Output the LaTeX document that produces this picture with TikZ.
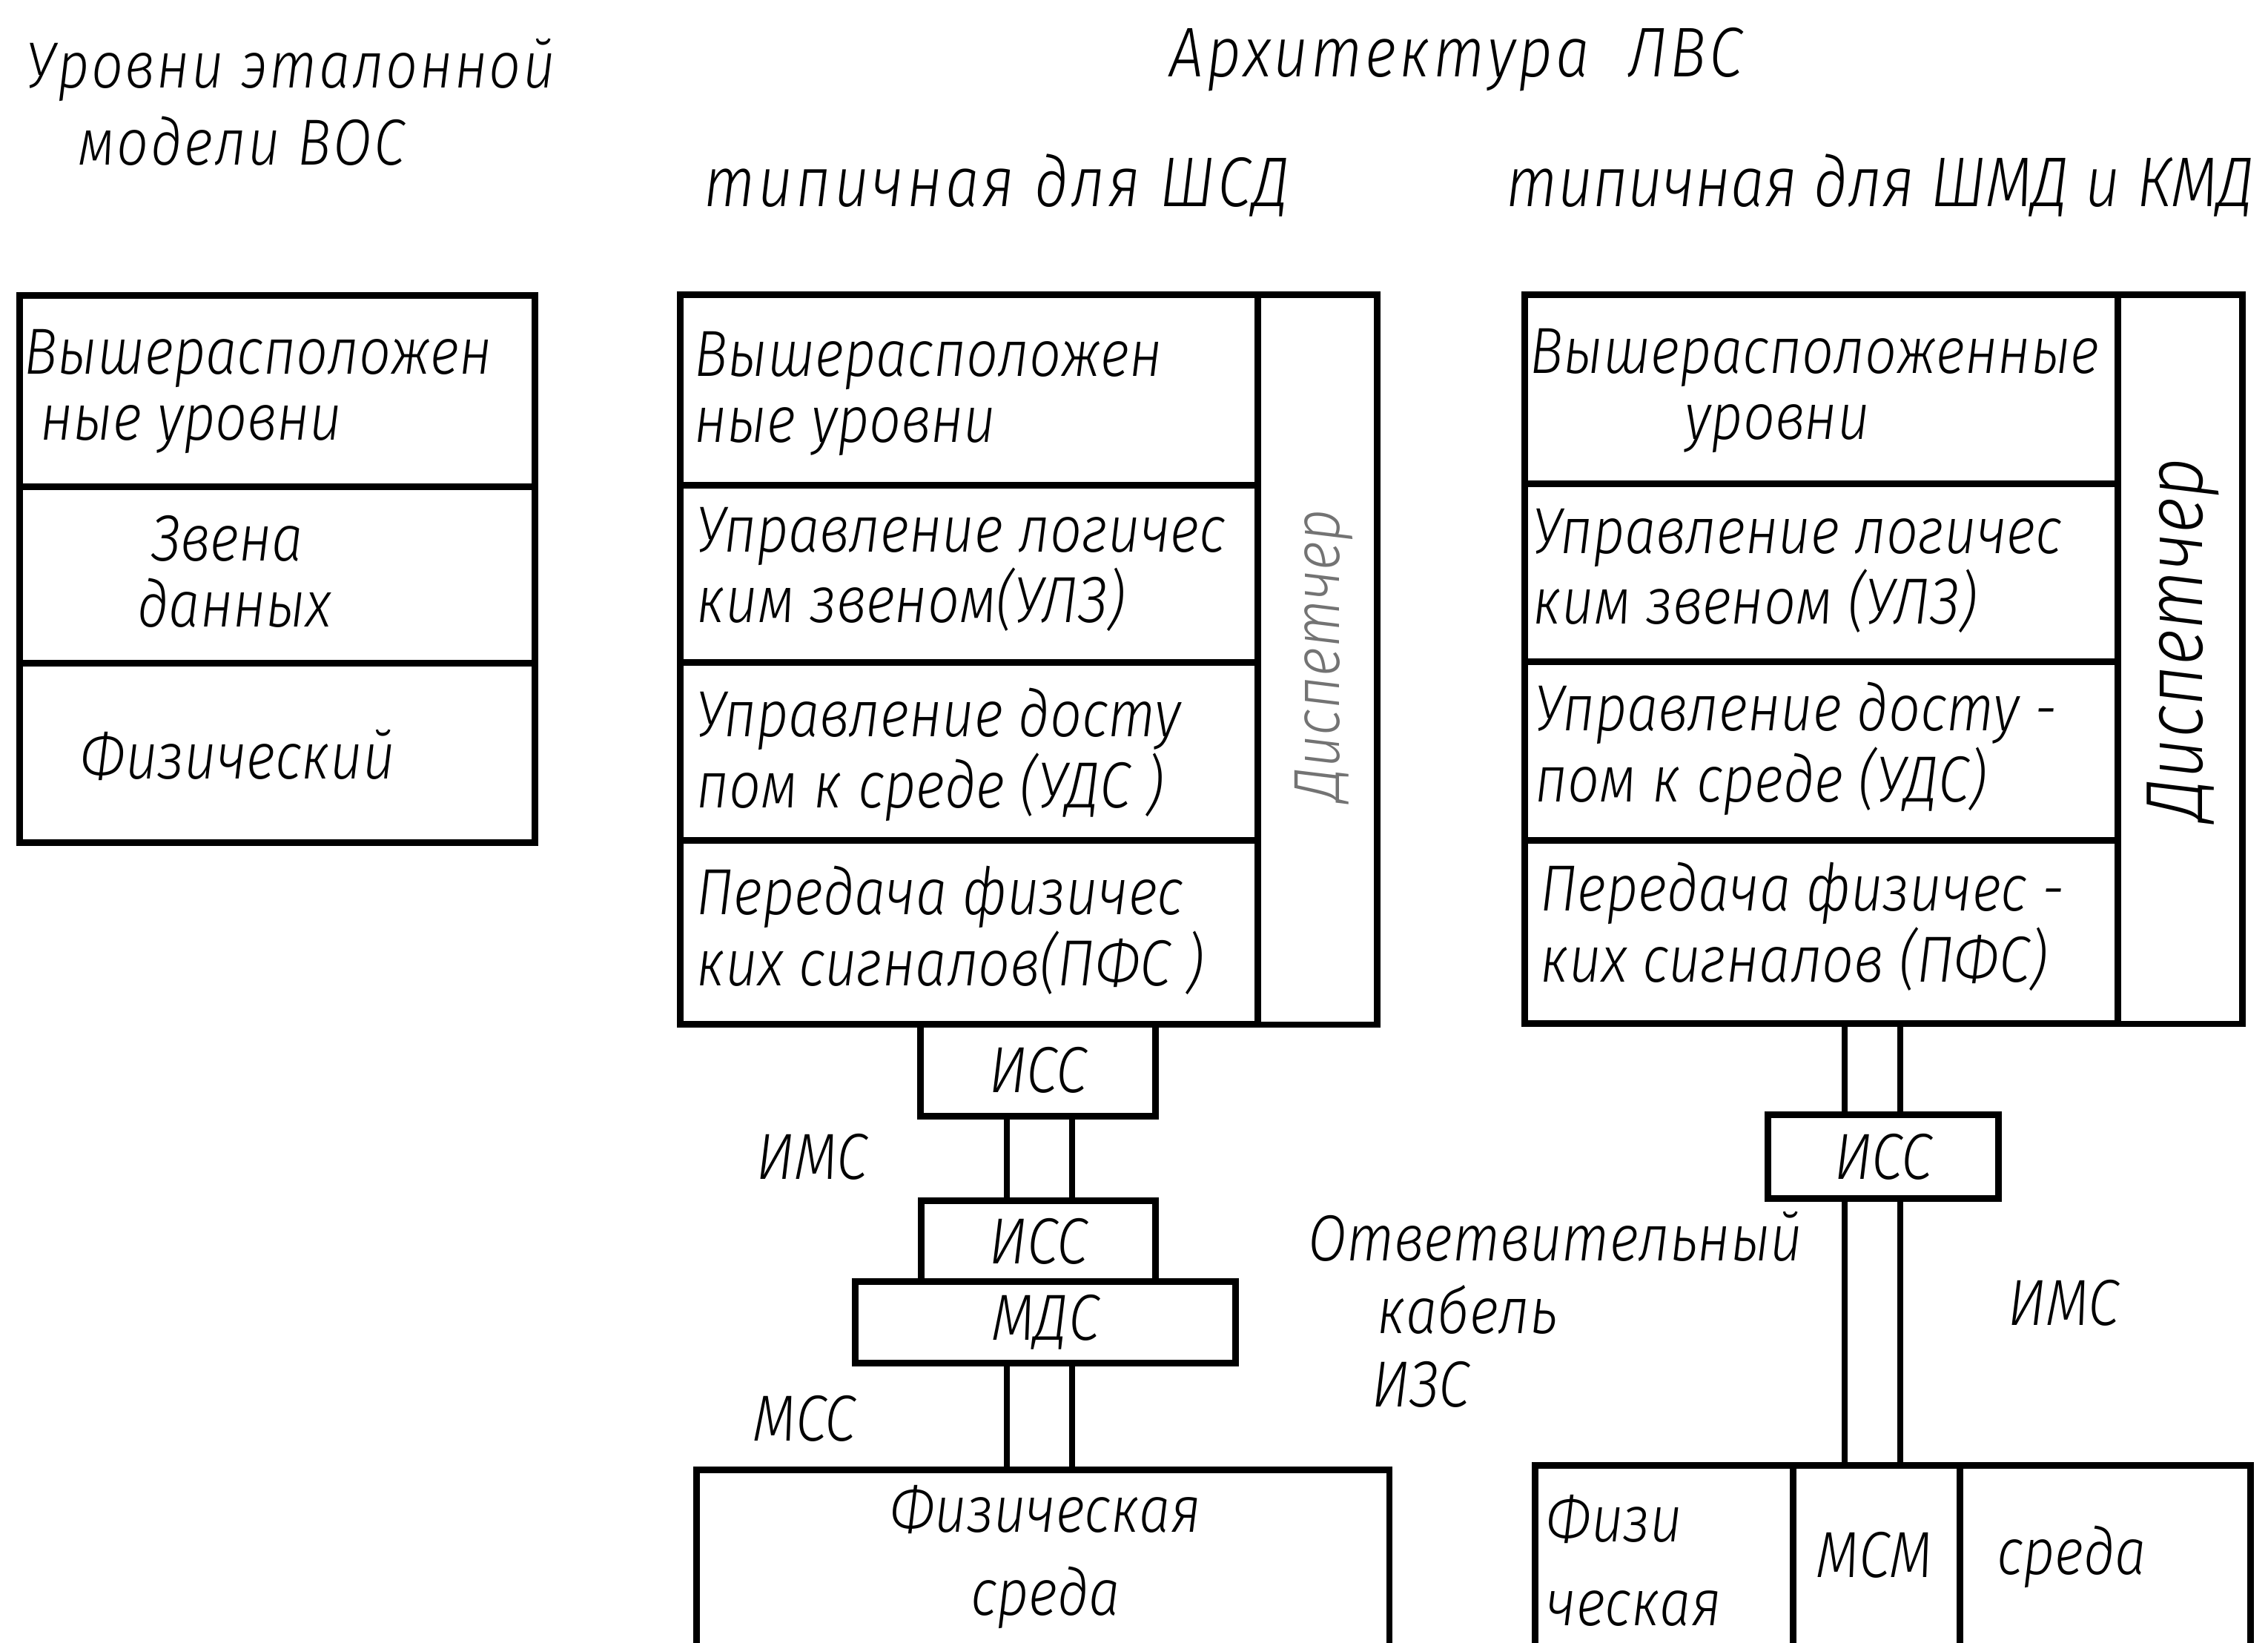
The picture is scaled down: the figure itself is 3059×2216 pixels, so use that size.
\documentclass[tikz,border=0pt]{standalone}
\usepackage{fontspec}
\setmainfont{Fira Sans Light Italic}[FakeStretch=0.86]
\begin{document}
\begin{tikzpicture}[x=0.01cm,y=-0.01cm,
  cellbox/.style={draw, line width=2.5pt, inner sep=0pt, anchor=north west},
  txt/.style={font=\fontsize{25}{25.5}\selectfont, inner sep=0pt, align=left},
  ttl/.style={font=\fontsize{27}{29}\selectfont\addfontfeature{LetterSpace=4}, inner sep=0pt, align=left},
  cable/.style={line width=2.3pt}]
\useasboundingbox (0,0) rectangle (3059,2216);
\clip (0,0) rectangle (3059,2216);
% titles
\node[txt, anchor=west, font=\fontsize{25}{27}\selectfont\addfontfeature{LetterSpace=3}] (tT1) at (35,94) {Уровни эталонной};
\node[txt, anchor=west, font=\fontsize{25}{27}\selectfont\addfontfeature{LetterSpace=3}] (tT2) at (105,190) {модели ВОС};
\node[ttl, anchor=west] (tA) at (1577,80) {Архитектура \ ЛВС};
\node[ttl, anchor=west] (tS) at (949,250) {типичная для ШСД};
\node[txt, anchor=west, font=\fontsize{27}{29}\selectfont] (tK) at (2031,250) {типичная для ШМД и КМД};
% left column
\node[cellbox, minimum width=6.95cm, minimum height=2.58cm] (L1) at (22,394) {};
\node[cellbox, minimum width=6.95cm, minimum height=2.38cm] (L2) at (22,652) {};
\node[cellbox, minimum width=6.95cm, minimum height=2.42cm] (L3) at (22,890) {};
\node[txt, anchor=west] (tL1) at (32,528) {Вышерасположен\\\hspace*{0.22cm}ные уровни};
\node[txt, anchor=west] (tL2) at (185,771) {\hspace*{0.19cm}Звена\\данных};
\node[txt, anchor=west] (tL3) at (108,1018) {Физический};
% middle column
\node[cellbox, minimum width=7.79cm, minimum height=2.57cm] (M1) at (913,393) {};
\node[cellbox, minimum width=7.79cm, minimum height=2.39cm] (M2) at (913,650) {};
\node[cellbox, minimum width=7.79cm, minimum height=2.40cm] (M3) at (913,889) {};
\node[cellbox, minimum width=7.79cm, minimum height=2.48cm] (M4) at (913,1129) {};
\node[cellbox, minimum width=1.61cm, minimum height=9.84cm] (MS) at (1692,393) {};
\node[txt, anchor=west] (tM1) at (936,531) {Вышерасположен\\ные уровни};
\node[txt, anchor=west] (tM2) at (939,768) {Управление логичес\\ким звеном(УЛЗ)};
\node[txt, anchor=west] (tM3) at (939,1018) {Управление досту\\пом к среде (УДС )};
\node[txt, anchor=west] (tM4) at (939,1255) {Передача физичес\\ких сигналов(ПФС )};
\node[txt, rotate=90, text=black!55, font=\fontsize{25}{26}\selectfont] (dM) at (1785,884) {Диспетчер};
% right column
\node[cellbox, minimum width=8.00cm, minimum height=2.55cm] (R1) at (2052,393) {};
\node[cellbox, minimum width=8.00cm, minimum height=2.40cm] (R2) at (2052,648) {};
\node[cellbox, minimum width=8.00cm, minimum height=2.41cm] (R3) at (2052,888) {};
\node[cellbox, minimum width=8.00cm, minimum height=2.47cm] (R4) at (2052,1129) {};
\node[cellbox, minimum width=1.68cm, minimum height=9.83cm] (RS) at (2852,393) {};
\node[txt, anchor=west] (tR1) at (2063,527) {Вышерасположенные\\\hspace*{2.09cm}уровни};
\node[txt, anchor=west] (tR2) at (2067,770) {Управление логичес\\ким звеном (УЛЗ)};
\node[txt, anchor=west] (tR3) at (2070,1010) {Управление досту -\\пом к среде (УДС)};
\node[txt, anchor=west] (tR4) at (2077,1250) {Передача физичес -\\ких сигналов (ПФС)};
\node[txt, rotate=90, font=\fontsize{31}{32}\selectfont] (dR) at (2944,862) {Диспетчер};
% middle lower chain
\node[cellbox, minimum width=3.17cm, minimum height=1.24cm, font=\fontsize{25}{25.5}\selectfont] (I1) at (1237,1377) {ИСС};
\node[cellbox, minimum width=3.16cm, minimum height=1.09cm, font=\fontsize{25}{25.5}\selectfont] (I2) at (1238,1615) {ИСС};
\node[cellbox, minimum width=5.13cm, minimum height=1.10cm, font=\fontsize{25}{25.5}\selectfont] (MD) at (1149,1724) {МДС};
\node[cellbox, minimum width=9.34cm, minimum height=3.00cm] (PM) at (935,1978) {};
\node[txt, align=center, font=\fontsize{25}{32}\selectfont] (tPM) at (1410,2100) {Физическая\\среда};
\coordinate (ma) at (1358,0);
\coordinate (mb) at (1446,0);
\draw[cable] (I1.south -| ma) -- (I2.north -| ma);
\draw[cable] (I1.south -| mb) -- (I2.north -| mb);
\draw[cable] (MD.south -| ma) -- (PM.north -| ma);
\draw[cable] (MD.south -| mb) -- (PM.north -| mb);
\node[txt] (tIMS1) at (1095,1560) {ИМС};
\node[txt] (tMSS) at (1085,1913) {МСС};
\node[txt, anchor=west, font=\fontsize{25}{28}\selectfont] (tOtv) at (1764,1766) {Ответвительный\\\hspace*{0.93cm}кабель\\\hspace*{0.86cm}ИЗС};
% right lower chain
\node[cellbox, minimum width=3.11cm, minimum height=1.13cm, font=\fontsize{25}{25.5}\selectfont] (I3) at (2380,1499) {ИСС};
\node[cellbox, minimum width=3.48cm, minimum height=3.00cm] (B1) at (2066,1972) {};
\node[cellbox, minimum width=2.25cm, minimum height=3.00cm] (B2) at (2414,1972) {};
\node[cellbox, minimum width=3.92cm, minimum height=3.00cm] (B3) at (2639,1972) {};
\coordinate (ra) at (2488,0);
\coordinate (rb) at (2563,0);
\draw[cable] (R4.south -| ra) -- (I3.north -| ra);
\draw[cable] (R4.south -| rb) -- (I3.north -| rb);
\draw[cable] (I3.south -| ra) -- (B2.north -| ra);
\draw[cable] (I3.south -| rb) -- (B2.north -| rb);
\node[txt] (tIMS2) at (2783,1757) {ИМС};
\node[txt, anchor=west, font=\fontsize{25}{32}\selectfont] (tB1) at (2085,2105) {Физи\\ческая};
\node[txt] (tB2) at (2528,2097) {МСМ};
\node[txt] (tB3) at (2794,2100) {среда};
\end{tikzpicture}
\end{document}
